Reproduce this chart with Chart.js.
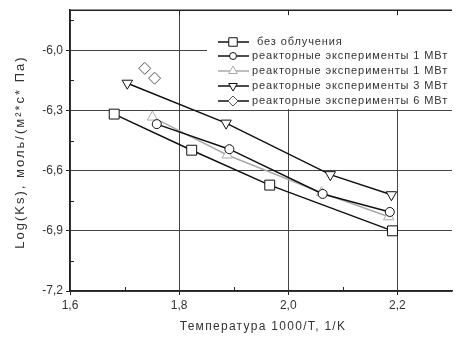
<!DOCTYPE html>
<html>
<head>
<meta charset="utf-8">
<script src="https://cdn.jsdelivr.net/npm/chart.js@4.4.1/dist/chart.umd.min.js"></script>
<style>
  html, body { margin: 0; padding: 0; background: #fff; overflow: hidden; }
  #wrap { width: 460px; height: 338px; }
</style>
</head>
<body>
<div id="wrap"><canvas id="chart" width="460" height="338"></canvas></div>
<script>
// данные
const seriesNames = [
    'без облучения',
    'реакторные эксперименты 1 МВт',
    'реакторные эксперименты 1 МВт',
    'реакторные эксперименты 3 МВт',
    'реакторные эксперименты 6 МВт'
];
const xSquare = [1.681, 1.823, 1.966, 2.191];
const ySquare = [-6.318, -6.498, -6.672, -6.900];
const xCircle = [1.759, 1.892, 2.063, 2.186];
const yCircle = [-6.368, -6.493, -6.716, -6.806];
const xTriUp = [1.751, 1.888, 2.061, 2.184];
const yTriUp = [-6.333, -6.522, -6.710, -6.830];
const xTriDown = [1.705, 1.886, 2.077, 2.189];
const yTriDown = [-6.164, -6.363, -6.620, -6.720];
const xDiamond = [1.737, 1.755];
const yDiamond = [-6.090, -6.139];

const xTicks = [1.6, 1.8, 2.0, 2.2];
const yTicks = [-7.2, -6.9, -6.6, -6.3, -6.0];
const xMinor = [1.7, 1.9, 2.1];
const yMinor = [-7.05, -6.75, -6.45, -6.15, -5.85];

const xTitle = 'Температура 1000/T, 1/K';
const yTitle = 'Log(Ks), моль/(м²*с* Па)';

const FONT = 'Liberation Sans, Arial, sans-serif';

/**
 * точки из двух массивов
 */
function pts(xs, ys) {
    return xs.map((x, i) => ({ x: x, y: ys[i] }));
}

const styles = [
    { color: '#111', style: 'rect', radius: 7, rotation: 0 },
    { color: '#111', style: 'circle', radius: 4.5, rotation: 0 },
    { color: '#aaa', style: 'triangle', radius: 6, rotation: 0 },
    { color: '#111', style: 'triangle', radius: 6, rotation: 180 },
    { color: '#111', style: 'rectRot', radius: 6, rotation: 0 }
];
const allData = [
    pts(xSquare, ySquare),
    pts(xCircle, yCircle),
    pts(xTriUp, yTriUp),
    pts(xTriDown, yTriDown),
    pts(xDiamond, yDiamond)
];

const datasets = allData.map((d, i) => ({
    label: seriesNames[i],
    data: d,
    showLine: i !== 4,
    borderColor: styles[i].color,
    backgroundColor: '#fff',
    borderWidth: 1.5,
    pointStyle: styles[i].style,
    pointRadius: styles[i].radius,
    pointRotation: styles[i].rotation,
    pointBorderWidth: 1,
    pointBorderColor: i === 4 ? '#555' : styles[i].color,
    pointBackgroundColor: '#fff'
}));

// легенда, подписи осей и малые штрихи
const decor = {
    id: 'decor',
    beforeDatasetsDraw(chart) {
        const ctx = chart.ctx;
        const xs = chart.scales.x, ys = chart.scales.y;
        const a = chart.chartArea;
        ctx.save();
        // белый фон легенды поверх сетки
        ctx.fillStyle = '#fff';
        ctx.fillRect(207, 15, 245, 94);
        ctx.strokeStyle = '#222';
        ctx.lineWidth = 1;
        ctx.beginPath();
        xMinor.forEach(v => {
            const px = Math.round(xs.getPixelForValue(v)) + 0.5;
            ctx.moveTo(px, a.bottom);
            ctx.lineTo(px, a.bottom - 4);
        });
        yMinor.forEach(v => {
            const py = Math.round(ys.getPixelForValue(v)) + 0.5;
            ctx.moveTo(a.left, py);
            ctx.lineTo(a.left + 4, py);
        });
        xTicks.slice(1).forEach(v => {
            const px = Math.round(xs.getPixelForValue(v)) + 0.5;
            ctx.moveTo(px, a.top);
            ctx.lineTo(px, a.top + 5);
        });
        ctx.stroke();
        // верхняя рамка
        ctx.lineWidth = 1.5;
        ctx.beginPath();
        ctx.moveTo(a.left, a.top);
        ctx.lineTo(a.right, a.top);
        ctx.stroke();
        ctx.restore();
    },
    afterDraw(chart) {
        const ctx = chart.ctx;
        ctx.save();
        const rowY = [42, 56, 71, 86, 101];
        chart.data.datasets.forEach((ds, i) => {
            const y = rowY[i];
            ctx.strokeStyle = styles[i].color;
            ctx.lineWidth = 1.5;
            ctx.beginPath();
            ctx.moveTo(218, y);
            ctx.lineTo(249, y);
            ctx.stroke();
            ctx.fillStyle = '#fff';
            ctx.strokeStyle = i === 4 ? '#555' : styles[i].color;
            ctx.lineWidth = 1;
            Chart.helpers.drawPoint(ctx, {
                pointStyle: styles[i].style,
                rotation: styles[i].rotation,
                radius: styles[i].radius - 1,
                borderWidth: 1
            }, 233, y);
            ctx.fillStyle = '#333';
            ctx.font = '11px ' + FONT;
            ctx.letterSpacing = '0.9px';
            ctx.textBaseline = 'middle';
            ctx.textAlign = 'left';
            ctx.fillText(ds.label, i === 0 ? 257 : 252, y);
        });
        // подписи осей
        ctx.fillStyle = '#333';
        ctx.textAlign = 'center';
        ctx.textBaseline = 'middle';
        ctx.font = '12px ' + FONT;
        ctx.letterSpacing = '1.3px';
        ctx.fillText(xTitle, 263, 327);
        ctx.translate(20, 152);
        ctx.rotate(-Math.PI / 2);
        ctx.font = '13px ' + FONT;
        ctx.letterSpacing = '2px';
        ctx.fillText(yTitle, 0, 0);
        ctx.restore();
    }
};

new Chart(document.getElementById('chart'), {
    type: 'scatter',
    data: { datasets: datasets },
    options: {
        responsive: false,
        animation: false,
        layout: { padding: { top: 10, right: 2, left: 0, bottom: 0 } },
        plugins: {
            legend: { display: false },
            tooltip: { enabled: false }
        },
        scales: {
            x: {
                type: 'linear',
                min: 1.6,
                max: 2.3,
                afterBuildTicks: s => { s.ticks = xTicks.map(v => ({ value: v })); },
                afterFit: s => { s.height = 47; },
                ticks: {
                    color: '#333',
                    font: { family: FONT, size: 12 },
                    padding: 3,
                    maxRotation: 0,
                    callback: v => v.toFixed(1).replace('.', ',')
                },
                grid: { color: '#444', lineWidth: 1, tickLength: 4, tickColor: '#222' },
                border: { color: '#222', width: 1.5 }
            },
            y: {
                type: 'linear',
                min: -7.2,
                max: -5.8,
                afterBuildTicks: s => { s.ticks = yTicks.map(v => ({ value: v })); },
                afterFit: s => { s.width = 70; },
                ticks: {
                    color: '#333',
                    font: { family: FONT, size: 12 },
                    padding: 3,
                    callback: v => v.toFixed(1).replace('.', ',')
                },
                grid: { color: '#444', lineWidth: 1, tickLength: 4, tickColor: '#222' },
                border: { color: '#222', width: 1.5 }
            }
        }
    },
    plugins: [decor]
});
</script>
</body>
</html>
